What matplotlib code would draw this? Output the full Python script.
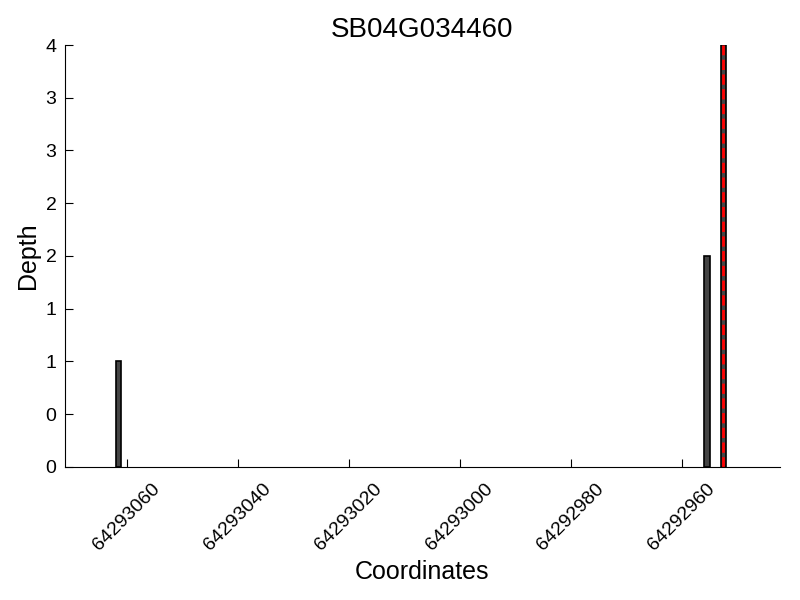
import numpy as np
import matplotlib
matplotlib.use('Agg')
import matplotlib.pyplot as plt
from matplotlib.ticker import FuncFormatter, MultipleLocator

plt.rcParams['font.family'] = ['Liberation Sans', 'DejaVu Sans']

# Depth values at each coordinate
coords = [64293062, 64292956, 64292953]
depth = [1, 2, 4]
site = 64292952.5
gene = 'SB04G034460'
xticks = [64293060, 64293040, 64293020, 64293000, 64292980, 64292960]

fig = plt.figure(figsize=(8, 6), dpi=100)
ax = fig.add_axes([0.081, 0.222, 0.894, 0.703])

ax.bar(coords, depth, width=-1, align='edge', color='#444444', edgecolor='black', linewidth=1.2)
ax.axvline(site, color='red', linestyle='--', linewidth=2)

ax.set_xlim(64293071.2, 64292942.3)
ax.set_ylim(0, 4)
ax.set_xticks(xticks)
ax.set_xticklabels([str(t) for t in xticks], rotation=45, fontsize=14)
ax.yaxis.set_major_locator(MultipleLocator(0.5))
ax.yaxis.set_major_formatter(FuncFormatter(lambda v, p: '%d' % int(v)))
ax.tick_params(axis='y', labelsize=14, pad=6)
ax.tick_params(axis='x', pad=10)
ax.tick_params(direction='in', length=6, top=False, right=False)

ax.spines['top'].set_visible(False)
ax.spines['right'].set_visible(False)

ax.set_xlabel('Coordinates', fontsize=18)
ax.set_ylabel('Depth', fontsize=18)
ax.set_title(gene, fontsize=20)

fig.savefig('out.png')
